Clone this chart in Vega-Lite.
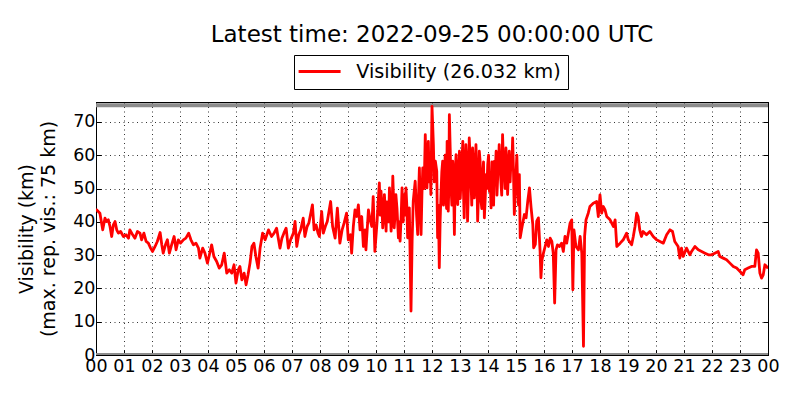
{
  "$schema": "https://vega.github.io/schema/vega-lite/v6.json",
  "width": 672,
  "height": 253,
  "autosize": {"type": "none"},
  "padding": {"left": 96, "top": 102, "right": 32, "bottom": 45},
  "title": {
    "text": "Latest time: 2022-09-25 00:00:00 UTC",
    "font": "DejaVu Sans",
    "fontSize": 23,
    "fontWeight": "normal",
    "color": "black",
    "anchor": "middle",
    "frame": "group",
    "offset": 8
  },
  "datasets": {
    "ref": [{"y": 0}, {"y": 75}],
    "vis": [
      {"t": 0.0, "v": 43.2}, {"t": 0.02, "v": 43.6}, {"t": 0.14, "v": 42.6}, {"t": 0.24, "v": 37.6}, {"t": 0.32, "v": 41.1},
      {"t": 0.38, "v": 40.1}, {"t": 0.44, "v": 40.6}, {"t": 0.5, "v": 38.6}, {"t": 0.56, "v": 35.6}, {"t": 0.62, "v": 39.1},
      {"t": 0.68, "v": 40.1}, {"t": 0.74, "v": 37.6}, {"t": 0.8, "v": 36.6}, {"t": 0.88, "v": 37.1}, {"t": 0.98, "v": 35.6},
      {"t": 1.07, "v": 36.1}, {"t": 1.16, "v": 35.1}, {"t": 1.21, "v": 37.6}, {"t": 1.31, "v": 36.1}, {"t": 1.39, "v": 35.1},
      {"t": 1.48, "v": 37.1}, {"t": 1.57, "v": 36.6}, {"t": 1.63, "v": 34.6}, {"t": 1.71, "v": 36.6}, {"t": 1.79, "v": 34.1},
      {"t": 1.87, "v": 33.6}, {"t": 1.95, "v": 32.1}, {"t": 2.02, "v": 31.1}, {"t": 2.11, "v": 32.6}, {"t": 2.19, "v": 34.1},
      {"t": 2.29, "v": 36.8}, {"t": 2.35, "v": 33.1}, {"t": 2.4, "v": 30.6}, {"t": 2.48, "v": 33.1}, {"t": 2.55, "v": 34.6},
      {"t": 2.62, "v": 30.6}, {"t": 2.7, "v": 33.1}, {"t": 2.79, "v": 35.6}, {"t": 2.86, "v": 31.6}, {"t": 2.94, "v": 34.6},
      {"t": 3.02, "v": 33.6}, {"t": 3.12, "v": 34.6}, {"t": 3.21, "v": 35.1}, {"t": 3.31, "v": 36.6}, {"t": 3.39, "v": 34.6},
      {"t": 3.48, "v": 33.1}, {"t": 3.57, "v": 33.6}, {"t": 3.66, "v": 32.1}, {"t": 3.71, "v": 29.1}, {"t": 3.81, "v": 32.1},
      {"t": 3.89, "v": 30.6}, {"t": 3.98, "v": 27.6}, {"t": 4.05, "v": 30.1}, {"t": 4.13, "v": 33.1}, {"t": 4.21, "v": 29.6},
      {"t": 4.31, "v": 28.1}, {"t": 4.4, "v": 26.1}, {"t": 4.49, "v": 27.1}, {"t": 4.58, "v": 30.6}, {"t": 4.67, "v": 24.6},
      {"t": 4.76, "v": 25.6}, {"t": 4.85, "v": 24.6}, {"t": 4.93, "v": 27.1}, {"t": 5.0, "v": 21.6}, {"t": 5.08, "v": 25.6},
      {"t": 5.14, "v": 26.6}, {"t": 5.21, "v": 22.6}, {"t": 5.29, "v": 24.6}, {"t": 5.36, "v": 21.1}, {"t": 5.43, "v": 24.1},
      {"t": 5.5, "v": 27.6}, {"t": 5.57, "v": 32.6}, {"t": 5.64, "v": 33.6}, {"t": 5.71, "v": 29.6}, {"t": 5.79, "v": 26.1},
      {"t": 5.86, "v": 32.1}, {"t": 5.95, "v": 36.6}, {"t": 6.04, "v": 34.6}, {"t": 6.16, "v": 37.6}, {"t": 6.27, "v": 35.6},
      {"t": 6.36, "v": 36.6}, {"t": 6.45, "v": 38.1}, {"t": 6.51, "v": 35.1}, {"t": 6.57, "v": 32.1}, {"t": 6.64, "v": 35.1},
      {"t": 6.71, "v": 36.6}, {"t": 6.79, "v": 38.1}, {"t": 6.87, "v": 32.1}, {"t": 6.95, "v": 34.6}, {"t": 7.05, "v": 36.6},
      {"t": 7.11, "v": 40.1}, {"t": 7.17, "v": 32.6}, {"t": 7.24, "v": 36.1}, {"t": 7.31, "v": 37.6}, {"t": 7.4, "v": 41.1},
      {"t": 7.46, "v": 35.6}, {"t": 7.54, "v": 38.6}, {"t": 7.6, "v": 39.6}, {"t": 7.73, "v": 45.1}, {"t": 7.79, "v": 37.6},
      {"t": 7.86, "v": 39.1}, {"t": 7.93, "v": 36.6}, {"t": 7.98, "v": 35.6}, {"t": 8.06, "v": 43.1}, {"t": 8.12, "v": 36.6},
      {"t": 8.19, "v": 38.6}, {"t": 8.26, "v": 40.1}, {"t": 8.38, "v": 46.1}, {"t": 8.45, "v": 38.6}, {"t": 8.54, "v": 35.1},
      {"t": 8.62, "v": 44.1}, {"t": 8.71, "v": 33.6}, {"t": 8.79, "v": 37.6}, {"t": 8.86, "v": 39.6}, {"t": 8.95, "v": 42.6},
      {"t": 9.01, "v": 34.6}, {"t": 9.09, "v": 36.1}, {"t": 9.13, "v": 30.6}, {"t": 9.19, "v": 38.6}, {"t": 9.25, "v": 43.6},
      {"t": 9.31, "v": 41.6}, {"t": 9.37, "v": 45.1}, {"t": 9.43, "v": 37.6}, {"t": 9.49, "v": 41.6}, {"t": 9.55, "v": 32.6},
      {"t": 9.61, "v": 37.6}, {"t": 9.64, "v": 31.6}, {"t": 9.73, "v": 43.6}, {"t": 9.79, "v": 40.6}, {"t": 9.85, "v": 38.6},
      {"t": 9.9, "v": 47.6}, {"t": 9.96, "v": 31.1}, {"t": 10.04, "v": 40.2}, {"t": 10.07, "v": 45.0}, {"t": 10.12, "v": 51.7},
      {"t": 10.15, "v": 42.0}, {"t": 10.18, "v": 49.2}, {"t": 10.21, "v": 45.0}, {"t": 10.24, "v": 38.2}, {"t": 10.27, "v": 42.0},
      {"t": 10.3, "v": 48.2}, {"t": 10.33, "v": 44.0}, {"t": 10.36, "v": 37.2}, {"t": 10.39, "v": 46.0}, {"t": 10.42, "v": 43.2},
      {"t": 10.45, "v": 40.0}, {"t": 10.48, "v": 50.2}, {"t": 10.51, "v": 44.0}, {"t": 10.54, "v": 37.2}, {"t": 10.57, "v": 42.0},
      {"t": 10.6, "v": 53.7}, {"t": 10.63, "v": 46.0}, {"t": 10.65, "v": 38.2}, {"t": 10.68, "v": 42.0}, {"t": 10.71, "v": 48.2},
      {"t": 10.75, "v": 44.0}, {"t": 10.8, "v": 35.2}, {"t": 10.83, "v": 40.0}, {"t": 10.86, "v": 34.2}, {"t": 10.9, "v": 42.0},
      {"t": 10.93, "v": 50.2}, {"t": 10.97, "v": 40.0}, {"t": 11.01, "v": 48.2}, {"t": 11.04, "v": 42.0}, {"t": 11.07, "v": 50.2},
      {"t": 11.1, "v": 45.0}, {"t": 11.13, "v": 35.2}, {"t": 11.16, "v": 40.0}, {"t": 11.19, "v": 44.2}, {"t": 11.25, "v": 13.2},
      {"t": 11.29, "v": 34.2}, {"t": 11.33, "v": 46.2}, {"t": 11.4, "v": 52.2}, {"t": 11.45, "v": 42.0}, {"t": 11.49, "v": 36.2},
      {"t": 11.52, "v": 48.0}, {"t": 11.55, "v": 56.2}, {"t": 11.58, "v": 45.0}, {"t": 11.61, "v": 36.2}, {"t": 11.64, "v": 48.0},
      {"t": 11.67, "v": 56.2}, {"t": 11.72, "v": 50.0}, {"t": 11.76, "v": 66.2}, {"t": 11.79, "v": 55.0}, {"t": 11.82, "v": 50.2},
      {"t": 11.87, "v": 64.2}, {"t": 11.9, "v": 52.0}, {"t": 11.93, "v": 60.2}, {"t": 11.96, "v": 48.2}, {"t": 12.0, "v": 74.7},
      {"t": 12.05, "v": 63.2}, {"t": 12.08, "v": 52.0}, {"t": 12.12, "v": 58.2}, {"t": 12.17, "v": 55.2}, {"t": 12.2, "v": 35.2},
      {"t": 12.23, "v": 45.0}, {"t": 12.26, "v": 26.2}, {"t": 12.29, "v": 40.0}, {"t": 12.32, "v": 48.2}, {"t": 12.35, "v": 55.0},
      {"t": 12.38, "v": 58.2}, {"t": 12.41, "v": 45.0}, {"t": 12.44, "v": 52.2}, {"t": 12.47, "v": 60.0}, {"t": 12.5, "v": 48.2},
      {"t": 12.52, "v": 44.0}, {"t": 12.54, "v": 64.2}, {"t": 12.56, "v": 55.0}, {"t": 12.58, "v": 43.2}, {"t": 12.6, "v": 50.0},
      {"t": 12.62, "v": 72.2}, {"t": 12.65, "v": 62.0}, {"t": 12.68, "v": 50.2}, {"t": 12.71, "v": 45.0}, {"t": 12.74, "v": 58.2},
      {"t": 12.77, "v": 52.0}, {"t": 12.8, "v": 36.2}, {"t": 12.83, "v": 55.0}, {"t": 12.86, "v": 60.2}, {"t": 12.89, "v": 48.0},
      {"t": 12.92, "v": 45.2}, {"t": 12.95, "v": 56.0}, {"t": 12.98, "v": 61.2}, {"t": 13.01, "v": 47.0}, {"t": 13.04, "v": 53.2},
      {"t": 13.07, "v": 58.0}, {"t": 13.1, "v": 64.2}, {"t": 13.12, "v": 50.0}, {"t": 13.15, "v": 41.2}, {"t": 13.18, "v": 55.0},
      {"t": 13.21, "v": 63.2}, {"t": 13.24, "v": 58.0}, {"t": 13.27, "v": 40.2}, {"t": 13.3, "v": 50.0}, {"t": 13.33, "v": 65.2},
      {"t": 13.36, "v": 60.0}, {"t": 13.39, "v": 53.2}, {"t": 13.42, "v": 45.0}, {"t": 13.45, "v": 62.2}, {"t": 13.48, "v": 58.0},
      {"t": 13.51, "v": 47.2}, {"t": 13.54, "v": 52.0}, {"t": 13.57, "v": 63.2}, {"t": 13.6, "v": 55.0}, {"t": 13.63, "v": 40.2},
      {"t": 13.66, "v": 48.0}, {"t": 13.69, "v": 61.2}, {"t": 13.72, "v": 58.0}, {"t": 13.75, "v": 46.2}, {"t": 13.78, "v": 44.0},
      {"t": 13.81, "v": 54.2}, {"t": 13.84, "v": 58.0}, {"t": 13.87, "v": 41.2}, {"t": 13.9, "v": 47.0}, {"t": 13.93, "v": 54.2},
      {"t": 13.96, "v": 50.0}, {"t": 13.99, "v": 57.2}, {"t": 14.02, "v": 60.0}, {"t": 14.05, "v": 49.2}, {"t": 14.08, "v": 52.0},
      {"t": 14.11, "v": 44.2}, {"t": 14.14, "v": 58.0}, {"t": 14.17, "v": 51.2}, {"t": 14.2, "v": 45.0}, {"t": 14.23, "v": 58.2},
      {"t": 14.26, "v": 55.0}, {"t": 14.29, "v": 61.2}, {"t": 14.32, "v": 48.0}, {"t": 14.35, "v": 54.2}, {"t": 14.37, "v": 56.0},
      {"t": 14.4, "v": 63.2}, {"t": 14.43, "v": 58.0}, {"t": 14.46, "v": 52.2}, {"t": 14.49, "v": 48.0}, {"t": 14.52, "v": 66.2},
      {"t": 14.55, "v": 58.0}, {"t": 14.58, "v": 55.2}, {"t": 14.61, "v": 50.0}, {"t": 14.64, "v": 62.2}, {"t": 14.67, "v": 58.0},
      {"t": 14.7, "v": 48.2}, {"t": 14.73, "v": 55.0}, {"t": 14.76, "v": 61.2}, {"t": 14.79, "v": 52.0}, {"t": 14.82, "v": 58.2},
      {"t": 14.85, "v": 56.0}, {"t": 14.88, "v": 65.2}, {"t": 14.91, "v": 55.0}, {"t": 14.94, "v": 42.2}, {"t": 14.97, "v": 48.0},
      {"t": 15.0, "v": 54.2}, {"t": 15.03, "v": 60.0}, {"t": 15.06, "v": 50.2}, {"t": 15.09, "v": 45.0}, {"t": 15.12, "v": 54.2},
      {"t": 15.15, "v": 35.2}, {"t": 15.21, "v": 38.2}, {"t": 15.3, "v": 42.2}, {"t": 15.36, "v": 41.2}, {"t": 15.42, "v": 46.2},
      {"t": 15.48, "v": 50.2}, {"t": 15.54, "v": 44.2}, {"t": 15.6, "v": 39.2}, {"t": 15.63, "v": 32.2}, {"t": 15.69, "v": 33.2},
      {"t": 15.74, "v": 40.2}, {"t": 15.8, "v": 41.2}, {"t": 15.86, "v": 31.2}, {"t": 15.89, "v": 23.2}, {"t": 15.93, "v": 28.6},
      {"t": 15.98, "v": 30.6}, {"t": 16.04, "v": 32.6}, {"t": 16.1, "v": 34.6}, {"t": 16.16, "v": 32.6}, {"t": 16.22, "v": 35.1},
      {"t": 16.28, "v": 34.1}, {"t": 16.33, "v": 30.6}, {"t": 16.38, "v": 15.6}, {"t": 16.43, "v": 31.6}, {"t": 16.48, "v": 33.1},
      {"t": 16.55, "v": 32.6}, {"t": 16.63, "v": 33.6}, {"t": 16.69, "v": 31.1}, {"t": 16.75, "v": 35.6}, {"t": 16.81, "v": 33.6},
      {"t": 16.87, "v": 36.6}, {"t": 16.93, "v": 39.6}, {"t": 16.99, "v": 40.6}, {"t": 17.03, "v": 19.6}, {"t": 17.07, "v": 37.6},
      {"t": 17.14, "v": 32.6}, {"t": 17.23, "v": 31.6}, {"t": 17.29, "v": 35.6}, {"t": 17.35, "v": 30.6}, {"t": 17.41, "v": 2.6},
      {"t": 17.45, "v": 35.6}, {"t": 17.5, "v": 40.6}, {"t": 17.58, "v": 42.6}, {"t": 17.64, "v": 44.6}, {"t": 17.76, "v": 45.6},
      {"t": 17.88, "v": 46.1}, {"t": 17.94, "v": 41.6}, {"t": 18.0, "v": 48.1}, {"t": 18.06, "v": 42.6}, {"t": 18.12, "v": 44.6},
      {"t": 18.18, "v": 43.6}, {"t": 18.24, "v": 41.6}, {"t": 18.36, "v": 40.6}, {"t": 18.48, "v": 38.6}, {"t": 18.54, "v": 40.6},
      {"t": 18.6, "v": 32.6}, {"t": 18.72, "v": 33.6}, {"t": 18.83, "v": 34.6}, {"t": 18.95, "v": 36.6}, {"t": 19.01, "v": 34.6},
      {"t": 19.13, "v": 33.1}, {"t": 19.19, "v": 35.6}, {"t": 19.25, "v": 38.6}, {"t": 19.31, "v": 42.6}, {"t": 19.36, "v": 41.6},
      {"t": 19.42, "v": 37.6}, {"t": 19.48, "v": 35.6}, {"t": 19.54, "v": 37.1}, {"t": 19.66, "v": 36.1}, {"t": 19.78, "v": 37.1},
      {"t": 19.9, "v": 35.6}, {"t": 20.02, "v": 34.6}, {"t": 20.14, "v": 34.1}, {"t": 20.26, "v": 33.6}, {"t": 20.38, "v": 36.1},
      {"t": 20.5, "v": 37.6}, {"t": 20.59, "v": 37.1}, {"t": 20.67, "v": 34.1}, {"t": 20.79, "v": 32.6}, {"t": 20.85, "v": 29.1},
      {"t": 20.91, "v": 32.1}, {"t": 20.97, "v": 29.6}, {"t": 21.09, "v": 32.1}, {"t": 21.21, "v": 30.1}, {"t": 21.27, "v": 31.1},
      {"t": 21.39, "v": 32.6}, {"t": 21.51, "v": 31.6}, {"t": 21.63, "v": 31.1}, {"t": 21.75, "v": 30.6}, {"t": 21.87, "v": 30.1},
      {"t": 21.98, "v": 30.1}, {"t": 22.1, "v": 30.6}, {"t": 22.22, "v": 31.1}, {"t": 22.28, "v": 29.6}, {"t": 22.4, "v": 29.1},
      {"t": 22.52, "v": 28.6}, {"t": 22.64, "v": 27.6}, {"t": 22.76, "v": 26.6}, {"t": 22.88, "v": 26.1}, {"t": 23.0, "v": 25.1},
      {"t": 23.11, "v": 24.1}, {"t": 23.17, "v": 25.6}, {"t": 23.29, "v": 26.1}, {"t": 23.41, "v": 26.6}, {"t": 23.53, "v": 26.6},
      {"t": 23.59, "v": 31.6}, {"t": 23.65, "v": 30.6}, {"t": 23.71, "v": 24.6}, {"t": 23.77, "v": 23.1}, {"t": 23.83, "v": 24.1},
      {"t": 23.89, "v": 27.1}, {"t": 23.95, "v": 26.6}, {"t": 24.0, "v": 26.0}
    ]
  },
  "layer": [
    {
      "data": {"name": "ref"},
      "mark": {"type": "rule", "color": "#8c8c8c", "strokeWidth": 4, "clip": true},
      "encoding": {
        "y": {"field": "y", "type": "quantitative", "scale": {"domain": [0, 76], "nice": false}, "axis": null}
      }
    },
    {
      "data": {"name": "vis"},
      "mark": {"type": "line", "strokeWidth": 2.8, "clip": true, "strokeJoin": "round"},
      "encoding": {
        "x": {
          "field": "t",
          "type": "quantitative",
          "scale": {"domain": [0, 24], "nice": false},
          "axis": {
            "values": [0, 1, 2, 3, 4, 5, 6, 7, 8, 9, 10, 11, 12, 13, 14, 15, 16, 17, 18, 19, 20, 21, 22, 23, 24],
            "labelExpr": "datum.value == 24 ? '00' : (datum.value < 10 ? '0' + datum.value : '' + datum.value)",
            "title": null,
            "grid": true,
            "labelPadding": 7
          }
        },
        "y": {
          "field": "v",
          "type": "quantitative",
          "scale": {"domain": [0, 76], "nice": false},
          "axis": {
            "values": [0, 10, 20, 30, 40, 50, 60, 70],
            "title": ["Visibility (km)", "(max. rep. vis.: 75 km)"],
            "grid": true,
            "labelPadding": 6,
            "titlePadding": 14
          }
        },
        "color": {
          "datum": "Visibility (26.032 km)",
          "type": "nominal",
          "scale": {"range": ["#ff0000"]},
          "legend": {
            "title": null,
            "orient": "none",
            "legendX": 198,
            "legendY": -47,
            "symbolType": "M-2,0H5",
            "symbolSize": 144,
            "symbolStrokeWidth": 3,
            "labelOffset": 36,
            "labelLimit": 0,
            "padding": 7,
            "strokeColor": "black",
            "fillColor": "white",
            "labelFont": "DejaVu Sans",
            "labelFontSize": 19.2,
            "labelColor": "black"
          }
        }
      }
    },
    {
      "data": {"name": "vis"},
      "mark": {"type": "line", "opacity": 0},
      "encoding": {
        "x": {
          "field": "t",
          "type": "quantitative",
          "scale": {"domain": [0, 24], "nice": false},
          "axis": {
            "orient": "top",
            "values": [0, 1, 2, 3, 4, 5, 6, 7, 8, 9, 10, 11, 12, 13, 14, 15, 16, 17, 18, 19, 20, 21, 22, 23, 24],
            "labels": false,
            "title": null,
            "grid": false
          }
        },
        "y": {
          "field": "v",
          "type": "quantitative",
          "scale": {"domain": [0, 76], "nice": false},
          "axis": {
            "orient": "right",
            "values": [0, 10, 20, 30, 40, 50, 60, 70],
            "labels": false,
            "title": null,
            "grid": false
          }
        }
      }
    }
  ],
  "resolve": {"axis": {"x": "independent", "y": "independent"}},
  "config": {
    "view": {"stroke": "black", "strokeWidth": 1},
    "axis": {
      "domainColor": "black",
      "domainWidth": 1,
      "tickColor": "black",
      "tickSize": -5,
      "tickWidth": 1,
      "labelFont": "DejaVu Sans",
      "labelFontSize": 17.5,
      "labelColor": "black",
      "labelFlush": false,
      "labelOverlap": false,
      "labelBound": false,
      "titleFont": "DejaVu Sans",
      "titleFontSize": 19,
      "titleFontWeight": "normal",
      "titleColor": "black",
      "titleLineHeight": 22,
      "gridColor": "black",
      "gridDash": [1, 3.5],
      "gridWidth": 0.8,
      "gridOpacity": 1
    }
  }
}
